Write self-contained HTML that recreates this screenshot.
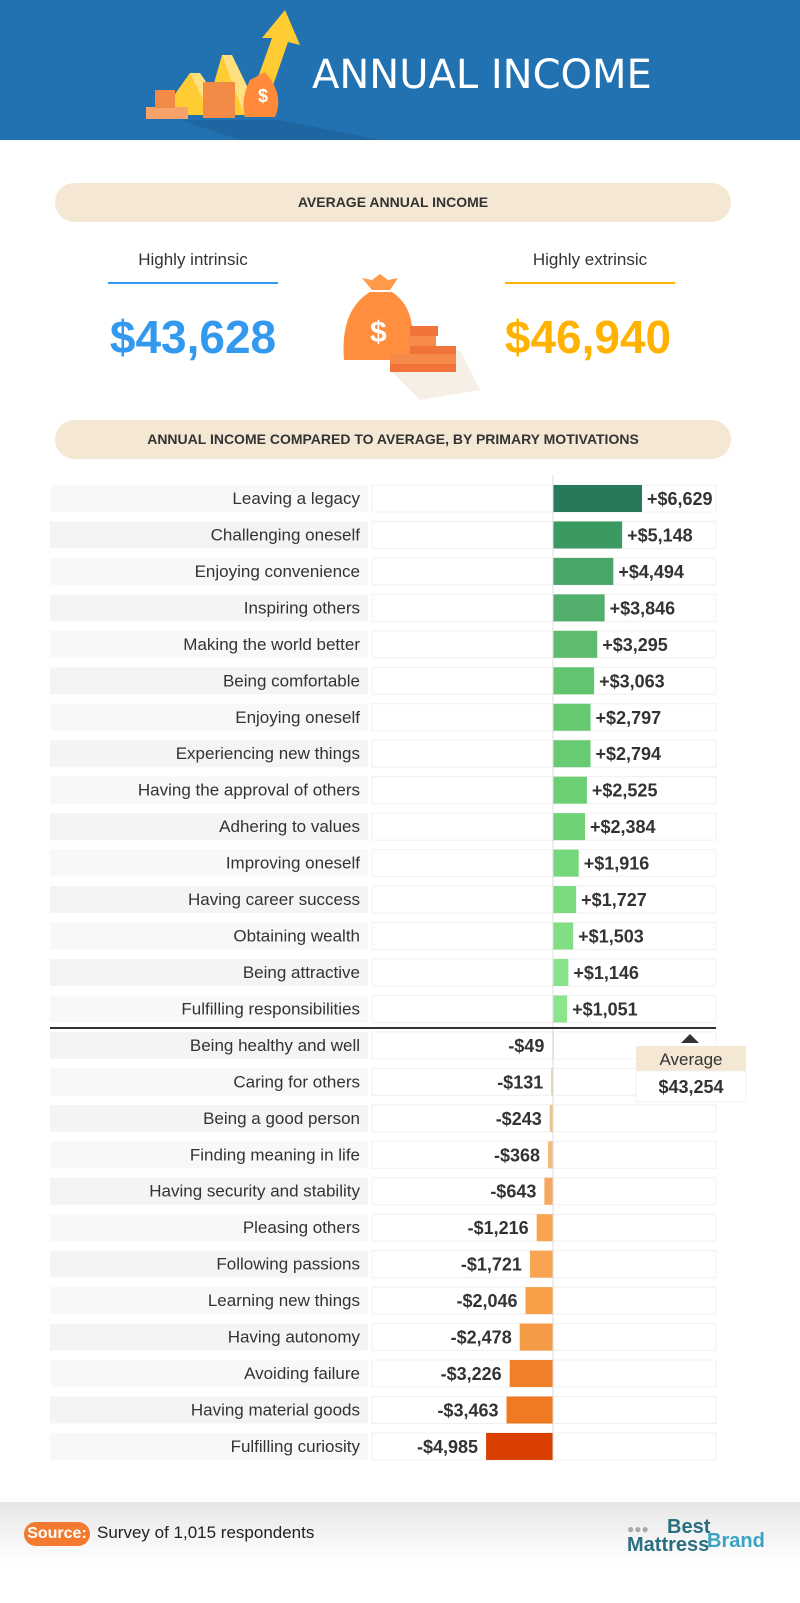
<!DOCTYPE html>
<html><head><meta charset="utf-8">
<style>
*{margin:0;padding:0;box-sizing:border-box}
body{width:800px;height:1603px;background:#fff;font-family:"Liberation Sans",sans-serif;position:relative;overflow:hidden}
.abs{position:absolute}
.pill{position:absolute;left:55px;width:676px;height:39px;background:#f4e8d4;border-radius:20px;text-align:center;line-height:39px;font-size:14px;font-weight:bold;color:#333}
.lbl{position:absolute;text-align:center;font-size:17px;color:#333;width:200px;font-family:"Liberation Sans Narrow","Liberation Sans",sans-serif}
.big{position:absolute;font-size:46px;font-weight:bold;width:260px;text-align:center;font-family:"Liberation Sans Narrow","Liberation Sans",sans-serif}
</style></head><body>
<div class="abs" style="left:0;top:0;width:800px;height:140px;background:#2272b2"></div>
<svg class="abs" style="left:0;top:0" width="800" height="140">
<polygon points="180,120 280,120 380,140 240,140" fill="#1e66a1"/>
<polygon points="160,115 190,73 200,73 210,115" fill="#ffcc33"/>
<polygon points="190,73 200,73 230,117 212,117" fill="#ffe080"/>
<polygon points="205,115 222,55 232,55 245,115" fill="#ffcc33"/>
<polygon points="222,55 232,55 262,117 245,117" fill="#ffe080"/>
<polygon points="250,100 272,38 262,38 285,10 300,45 288,42 268,100" fill="#ffcc33"/>
<rect x="146" y="107" width="42" height="12" fill="#f7a26a"/><rect x="155" y="90" width="20" height="18" fill="#f08a45"/>
<rect x="203" y="82" width="32" height="36" fill="#f08a45"/>
<path d="M250 80 Q240 100 245 117 L275 117 Q285 95 265 72 Z" fill="#ff8a3a"/>
<text x="258" y="102" fill="#fff" font-size="18" font-weight="bold" font-family="Liberation Sans">$</text>
<text x="312" y="88" fill="#fff" font-size="40" font-family="DejaVu Sans">ANNUAL INCOME</text>
</svg>
<div class="pill" style="top:183px">AVERAGE ANNUAL INCOME</div>
<div class="lbl" style="left:93px;top:250px">Highly intrinsic</div>
<div class="abs" style="left:108px;top:282px;width:170px;height:2px;background:#3399ee"></div>
<div class="big" style="left:63px;top:310px;color:#3399ee">$43,628</div>
<div class="lbl" style="left:490px;top:250px">Highly extrinsic</div>
<div class="abs" style="left:505px;top:282px;width:170px;height:2px;background:#ffb300"></div>
<div class="big" style="left:458px;top:310px;color:#ffb300">$46,940</div>
<svg class="abs" style="left:320px;top:250px" width="160" height="150">
<polygon points="70,120 140,100 160,140 100,150" fill="#f6efe6"/>
<path d="M42 28 L52 30 L60 24 L68 30 L78 28 L70 40 L52 40 Z" fill="#ff9a4a"/>
<path d="M50 42 Q20 60 24 110 L90 110 Q100 60 72 42 Z" fill="#ff8f3e"/>
<text x="50" y="92" fill="#fff" font-size="30" font-weight="bold" font-family="Liberation Sans">$</text>
<rect x="90" y="76" width="28" height="10" fill="#f0733a"/><rect x="88" y="86" width="28" height="10" fill="#f58a4a"/>
<rect x="90" y="96" width="46" height="10" fill="#f0733a"/><rect x="70" y="104" width="66" height="10" fill="#f58a4a"/><rect x="70" y="114" width="66" height="8" fill="#f0733a"/>
</svg>
<div class="pill" style="top:420px">ANNUAL INCOME COMPARED TO AVERAGE, BY PRIMARY MOTIVATIONS</div>
<svg id="chart" class="abs" style="left:0;top:0" width="800" height="1500"></svg>
<div class="abs" style="left:0;top:1502px;width:800px;height:101px;background:linear-gradient(#e6e6e6,#fff 60%)"></div>
<div class="abs" style="left:24px;top:1522px;width:66px;height:24px;background:#f47a30;border-radius:12px;color:#fff;font-weight:bold;font-size:16px;text-align:center;line-height:24px;font-family:'Liberation Sans Narrow','Liberation Sans',sans-serif">Source:</div>
<div class="abs" style="left:97px;top:1523px;font-size:17px;color:#222;font-family:'Liberation Sans Narrow','Liberation Sans',sans-serif">Survey of 1,015 respondents</div>
<div class="abs" style="left:627px;top:1518px;width:140px;height:40px;font-family:'Liberation Sans Narrow','Liberation Sans',sans-serif">
<span style="position:absolute;left:0;top:4px;color:#aaa;font-size:12px">●●●</span>
<span style="position:absolute;left:40px;top:-2px;color:#2a6f7f;font-size:20px;font-weight:bold">Best</span>
<span style="position:absolute;left:0;top:16px;color:#2a6f7f;font-size:20px;font-weight:bold">Mattress</span>
<span style="position:absolute;left:80px;top:12px;color:#3aa3c2;font-size:20px;font-weight:bold">Brand</span>
</div>
<script>
const categories=["Leaving a legacy","Challenging oneself","Enjoying convenience","Inspiring others","Making the world better","Being comfortable","Enjoying oneself","Experiencing new things","Having the approval of others","Adhering to values","Improving oneself","Having career success","Obtaining wealth","Being attractive","Fulfilling responsibilities","Being healthy and well","Caring for others","Being a good person","Finding meaning in life","Having security and stability","Pleasing others","Following passions","Learning new things","Having autonomy","Avoiding failure","Having material goods","Fulfilling curiosity"];
const values=[6629,5148,4494,3846,3295,3063,2797,2794,2525,2384,1916,1727,1503,1146,1051,-49,-131,-243,-368,-643,-1216,-1721,-2046,-2478,-3226,-3463,-4985];
const posColors=["#267a5a","#3a9a62","#48a66a","#52b06c","#5dbc6e","#63c46f","#66c870","#68ca72","#6ccf74","#6fd276","#76d87c","#79da7e","#80de84","#88e28a","#8ce48c"];
const negColors=["#e6d49c","#e8cc90","#ecc488","#f0bc78","#f6a860","#f9a450","#f9a450","#f8a048","#f59a44","#f07f2a","#f07a22","#d94000"];
const NS="http://www.w3.org/2000/svg";
const FN="Liberation Sans Narrow, Liberation Sans, sans-serif";
const svg=document.getElementById('chart');
const x0=553, scale=89/6629, top0=485, step=36.46, rh=27;
const xs=v=>x0+v*scale;
const ys=i=>top0+i*step;
function mk(t,a){const e=document.createElementNS(NS,t);for(const k in a)e.setAttribute(k,a[k]);svg.appendChild(e);return e;}
let pi=0,ni=0;
categories.forEach((c,i)=>{
  const y=ys(i),v=values[i];
  const bg=mk('rect',{x:50,y:y,width:318,height:rh,fill:i%2?'#f4f4f4':'#f8f8f8'});
  
  
  const pb=mk('rect',{x:372,y:y,width:344,height:rh,fill:'#fff',stroke:'#f0f0f0'});
  
  
  const t=mk('text',{x:360,y:y+19,'text-anchor':'end','font-size':17,fill:'#333','font-family':FN});
  t.textContent=c;
  
  
  const col=v>=0?posColors[pi++]:negColors[ni++];
  const bx=Math.min(xs(v),x0), bw=Math.max(Math.abs(xs(v)-x0),1.5);
  const b=mk('rect',{x:bx,y:y,width:bw,height:rh,fill:col});
  
  
  const s=(v>=0?'+$':'-$')+Math.abs(v).toLocaleString('en-US');
  const vt=mk('text',{x:v>=0?xs(v)+5:xs(v)-8,y:y+20,'text-anchor':v>=0?'start':'end','font-size':18,'font-weight':'bold',fill:'#333','font-family':FN});
  vt.textContent=s;
  
  
});
const zl=mk('line',{x1:x0,y1:top0-10,x2:x0,y2:ys(26)+rh,stroke:'#ddd','stroke-width':1});


const dl=mk('line',{x1:50,y1:1028,x2:716,y2:1028,stroke:'#333','stroke-width':2});


const tri=mk('polygon',{points:'681,1043 699,1043 690,1034',fill:'#333'});


const ab=mk('rect',{x:636,y:1046,width:110,height:25,fill:'#f4e8d4'});


const ab2=mk('rect',{x:636,y:1071,width:110,height:31,fill:'#fff',stroke:'#f0f0f0'});


const at=mk('text',{x:691,y:1065,'text-anchor':'middle','font-size':17,fill:'#333','font-family':FN});
at.textContent='Average';


const av=mk('text',{x:691,y:1093,'text-anchor':'middle','font-size':18,'font-weight':'bold',fill:'#333','font-family':FN});
av.textContent='$43,254';


</script>
</body></html>
